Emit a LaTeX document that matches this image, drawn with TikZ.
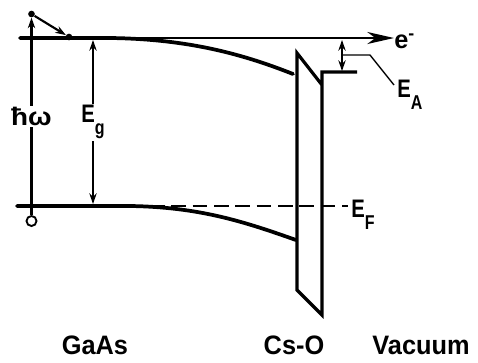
\documentclass[tikz,border=0pt]{standalone}
\usepackage{fontspec}
\setmainfont{Liberation Sans}
\usepackage{graphicx}
\usetikzlibrary{arrows.meta, calc}
\newcommand{\lbl}[2][0.8]{\scalebox{#1}[1]{\fontsize{19}{20}\selectfont\bfseries #2}}
\newcommand{\sublbl}[1]{\raisebox{-9.5pt}{\fontsize{15}{15}\selectfont #1}}
\newcommand{\matlbl}[1]{\scalebox{0.95}[1]{\fontsize{20}{22}\selectfont\bfseries #1}}

\begin{document}
\begin{tikzpicture}[x=0.75pt, y=-0.75pt,
    band/.style={line width=2.8pt, line cap=round},
    wall/.style={line width=2.4pt, line join=miter},
    arr/.style={-{Stealth[length=8pt, width=5.5pt]}, line width=1.6pt},
    darr/.style={{Stealth[length=8pt, width=5.5pt]}-{Stealth[length=8pt, width=5.5pt]}, line width=1.6pt},
    edot/.style={circle, fill=black, inner sep=0pt, minimum size=5pt},
    hole/.style={circle, draw, line width=1.4pt, fill=white, inner sep=0pt, minimum size=7.5pt},
    lab/.style={inner sep=1pt}]
  \useasboundingbox (0,0) rectangle (478,362);
  % vacuum level and emitted electron
  \coordinate (cbl) at (20,38);
  \node[anchor=base west, inner sep=0pt] (em) at (394,48) {\lbl[1]{e\textsuperscript{-}}};
  \draw[line width=1.8pt, -{Stealth[length=20pt, width=9pt, inset=6pt]}] (cbl) -- (cbl -| em.west);
  % bands
  \draw[band] (20,38) -- (110,38) .. controls (190,39) and (245,55) .. (293,74);
  \draw[band] (17,206) -- (130,206) .. controls (200,207) and (245,222) .. (296,240);
  \draw[line width=1.4pt, dash pattern=on 11pt off 5pt] (150,206) -- (348,206);
  % Cs-O layer
  \draw[wall] (357,72) -- (322,72) -- (322,315) -- (297,290) -- (297,53) -- (322,85);
  % excitation
  \node[hole] (h) at (31.5,221) {};
  \node[edot] (e1) at (31.5,14) {};
  \node[edot] (e2) at (69,37) {};
  \draw[arr] (h) -- node[fill=white, lab] (hw) {\lbl[1.1]{ħω}} (e1);
  \draw[arr] (e1) -- (e2);
  % band gap
  \coordinate (gt) at (93,40);
  \coordinate (gb) at (93,204);
  \draw[darr] (gt) -- node[fill=white, lab] (eg) {\lbl{E\sublbl{g}}} (gb);
  % electron affinity
  \coordinate (at) at (342,40);
  \coordinate (ab) at (342,71);
  \draw[darr] (at) -- (ab);
  \node[anchor=base west, inner sep=0pt] (ea) at (397,97) {\lbl{E\sublbl{A}}};
  \coordinate (lead) at (343,55);
  \coordinate (eaend) at (394,85);
  \draw[line width=1pt] (lead) -- ++(27,0) -- (eaend);
  % Fermi level
  \node[anchor=base west, inner sep=0pt] (ef) at (351,217) {\lbl{E\sublbl{F}}};
  % materials
  \node (gaas) at (95,345) {\matlbl{GaAs}};
  \node (cso) at (294,345) {\matlbl{Cs-O}};
  \node (vac) at (421,345) {\matlbl{Vacuum}};
\end{tikzpicture}
\end{document}
